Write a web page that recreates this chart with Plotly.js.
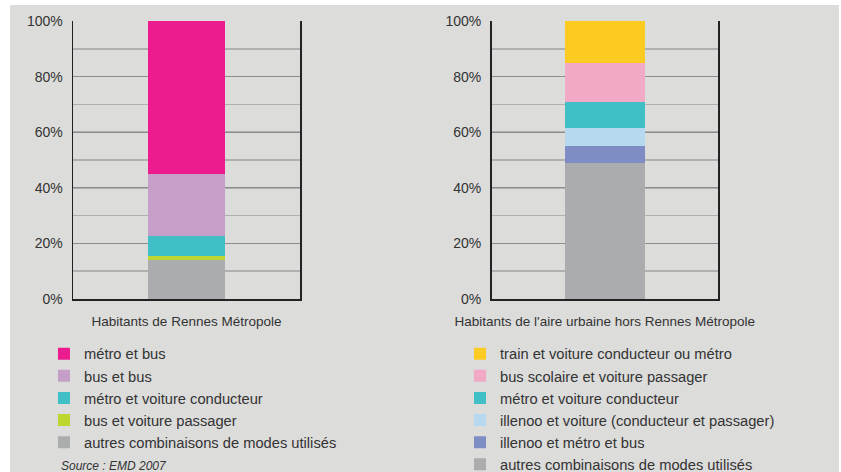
<!DOCTYPE html>
<html>
<head>
<meta charset="utf-8">
<script src="https://cdn.plot.ly/plotly-3.0.1.min.js"></script>
<style>
  html, body { margin: 0; padding: 0; background: #ffffff; width: 841px; height: 472px; overflow: hidden; }
  #chart { position: absolute; left: 10px; top: 5px; width: 829px; height: 467px; }
</style>
</head>
<body>
<div id="chart"></div>
<script>
// ---- Data ----
const leftCategory = ['Habitants de Rennes Métropole'];
const leftSeries = [
  'autres combinaisons de modes utilisés',
  'bus et voiture passager',
  'métro et voiture conducteur',
  'bus et bus',
  'métro et bus'
];
const leftValues = [14.0, 1.5, 7.3, 22.3, 54.9];
const leftColors = ['#abacae', '#bed630', '#40c0c6', '#c69fc9', '#ec1c8e'];

const rightCategory = ["Habitants de l'aire urbaine hors Rennes Métropole"];
const rightSeries = [
  'autres combinaisons de modes utilisés',
  'illenoo et métro et bus',
  'illenoo et voiture (conducteur et passager)',
  'métro et voiture conducteur',
  'bus scolaire et voiture passager',
  'train et voiture conducteur ou métro'
];
const rightValues = [48.9, 6.1, 6.5, 9.4, 13.9, 15.2];
const rightColors = ['#abacae', '#7f8dc5', '#b7d9ef', '#40c0c6', '#f2a9c6', '#fccb22'];

const yTickVals = [0, 20, 40, 60, 80, 100];
const yTickText = yTickVals.map(v => v + '%');
const sourceText = 'Source : EMD 2007';

// ---- Traces ----
const traces = [];
leftSeries.forEach((name, i) => {
  traces.push({
    type: 'bar', x: leftCategory, y: [leftValues[i]], name: name,
    marker: { color: leftColors[i], line: { width: 0 } },
    width: 0.335, xaxis: 'x', yaxis: 'y', legend: 'legend',
    hoverinfo: 'name+y'
  });
});
rightSeries.forEach((name, i) => {
  traces.push({
    type: 'bar', x: rightCategory, y: [rightValues[i]], name: name,
    marker: { color: rightColors[i], line: { width: 0 } },
    width: 0.356, xaxis: 'x2', yaxis: 'y2', legend: 'legend2',
    hoverinfo: 'name+y'
  });
});

const textColor = '#333333';
const fontFam = '"Liberation Sans", Arial, sans-serif';

function yAxis(anchor) {
  return {
    anchor: anchor, range: [0, 100], tickmode: 'array',
    tickvals: yTickVals, ticktext: yTickText,
    showgrid: true, gridcolor: '#8c8c8c', gridwidth: 1,
    minor: { dtick: 10, tick0: 0, showgrid: true, gridcolor: '#b0b0b0', gridwidth: 1.5 },
    showline: true, linecolor: '#222222', linewidth: 1.5, mirror: true,
    ticks: '', ticklabelstandoff: 6, zeroline: false,
    tickfont: { size: 14, color: textColor, family: fontFam }, fixedrange: true
  };
}
function xAxis(domain, anchor) {
  return {
    domain: domain, anchor: anchor, type: 'category',
    showline: true, linecolor: '#222222', linewidth: 1.5, mirror: false,
    showgrid: false, ticks: '', ticklabelstandoff: 9,
    tickfont: { size: 13.5, color: textColor, family: fontFam }, fixedrange: true
  };
}
function legendCfg(x) {
  return {
    x: x, xanchor: 'left', y: -0.139, yanchor: 'top',
    orientation: 'v', traceorder: 'reversed', bgcolor: 'rgba(0,0,0,0)',
    font: { size: 14.7, color: textColor, family: fontFam },
    itemclick: false, itemdoubleclick: false
  };
}

const layout = {
  width: 829, height: 467,
  margin: { l: 63, r: 121, t: 16, b: 173, autoexpand: false },
  paper_bgcolor: '#dcdcdb', plot_bgcolor: '#dcdcdb',
  font: { family: fontFam, color: textColor },
  barmode: 'stack', bargap: 0,
  showlegend: true,
  xaxis: xAxis([0, 0.352], 'y'),
  yaxis: yAxis('x'),
  xaxis2: xAxis([0.649, 1], 'y2'),
  yaxis2: yAxis('x2'),
  legend: legendCfg(-0.045),
  legend2: legendCfg(0.600),
  annotations: [{
    text: sourceText, xref: 'paper', yref: 'paper',
    x: -0.021, xanchor: 'left', y: -0.601, yanchor: 'middle', showarrow: false,
    font: { size: 12, color: textColor, family: fontFam, style: 'italic' }
  }]
};

Plotly.newPlot('chart', traces, layout, { displayModeBar: false, staticPlot: true });
</script>
</body>
</html>
